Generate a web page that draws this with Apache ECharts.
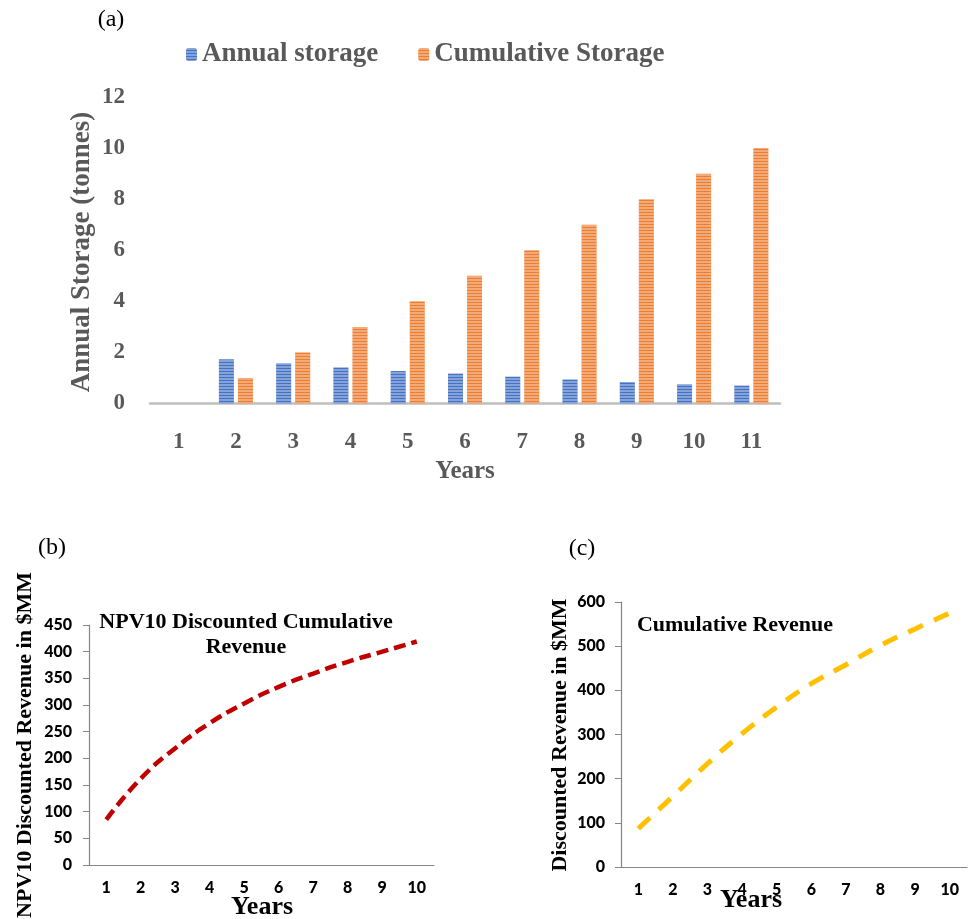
<!DOCTYPE html>
<html>
<head>
<meta charset="utf-8">
<script src="https://cdn.jsdelivr.net/npm/echarts@6/dist/echarts.min.js"></script>
<style>
  html, body { margin: 0; padding: 0; background: #fff; }
  #chart { width: 969px; height: 919px; }
</style>
</head>
<body>
<div id="chart"></div>
<script>
// (a) storage per year
const years = ['1', '2', '3', '4', '5', '6', '7', '8', '9', '10', '11'];
const annualStorage = [null, 1.73, 1.57, 1.41, 1.27, 1.17, 1.05, 0.94, 0.84, 0.75, 0.70];
const cumulativeStorage = [null, 1, 2, 3, 4, 5, 6, 7, 8, 9, 10];

// (b) and (c) revenue curves
const revYears = ['1', '2', '3', '4', '5', '6', '7', '8', '9', '10'];
const npvRevenue = [85, 162, 219, 266, 303, 334, 359, 381, 400, 419];
const cumRevenue = [87, 160, 234, 302, 362, 415, 458, 502, 539, 575];

const serif = '"Liberation Serif", "Times New Roman", serif';
const sans = 'Lato, "Open Sans", sans-serif';
const grayText = '#595959';

const stripes = {
  symbol: 'rect',
  symbolSize: 1,
  dashArrayX: [1, 0],
  dashArrayY: [2, 1],
  color: 'rgba(255,255,255,0.35)'
};

const chart = echarts.init(document.getElementById('chart'));

// small helper for free text
const label = (text, x, y, font, color, rot) => ({
  type: 'text',
  x: x, y: y,
  rotation: rot || 0,
  style: { text: text, font: font, fill: color || '#000', textAlign: 'center', textVerticalAlign: 'middle' }
});

const revAxisLabel = { fontFamily: sans, fontWeight: 900, fontSize: 16, color: '#000' };

chart.setOption({
  backgroundColor: '#fff',
  animation: false,
  legend: {
    data: ['Annual storage', 'Cumulative Storage'],
    left: 181,
    top: 36,
    itemWidth: 11,
    itemHeight: 13,
    itemGap: 40,
    textStyle: { fontFamily: serif, fontWeight: 'bold', fontSize: 27, color: grayText }
  },
  grid: [
    { left: 150, right: 189, top: 97, bottom: 515.5 },
    { left: 89, right: 535, top: 625, bottom: 54 },
    { left: 621, right: 2, top: 602, bottom: 52 }
  ],
  xAxis: [
    {
      gridIndex: 0, type: 'category', data: years,
      axisLine: { lineStyle: { color: '#bfbfbf', width: 2.5 } },
      axisTick: { show: false },
      axisLabel: { margin: 27, fontFamily: serif, fontWeight: 'bold', fontSize: 23, color: grayText }
    },
    {
      gridIndex: 1, type: 'category', data: revYears,
      axisLine: { lineStyle: { color: '#868686', width: 1.2 } },
      axisTick: { length: 5, lineStyle: { color: '#868686' } },
      axisLabel: Object.assign({ margin: 15 }, revAxisLabel)
    },
    {
      gridIndex: 2, type: 'category', data: revYears,
      axisLine: { lineStyle: { color: '#868686', width: 1.2 } },
      axisTick: { length: 5, lineStyle: { color: '#868686' } },
      axisLabel: Object.assign({ margin: 15 }, revAxisLabel)
    }
  ],
  yAxis: [
    {
      gridIndex: 0, type: 'value', min: 0, max: 12, interval: 2,
      axisLine: { show: false },
      axisTick: { show: false },
      splitLine: { show: false },
      axisLabel: { margin: 25, fontFamily: serif, fontWeight: 'bold', fontSize: 23, color: grayText }
    },
    {
      gridIndex: 1, type: 'value', min: 0, max: 450, interval: 50,
      axisLine: { show: true, lineStyle: { color: '#868686', width: 1.2 } },
      axisTick: { show: true, length: 6, lineStyle: { color: '#868686' } },
      splitLine: { show: false },
      axisLabel: Object.assign({ margin: 17 }, revAxisLabel)
    },
    {
      gridIndex: 2, type: 'value', min: 0, max: 600, interval: 100,
      axisLine: { show: true, lineStyle: { color: '#868686', width: 1.2 } },
      axisTick: { show: true, length: 6, lineStyle: { color: '#868686' } },
      splitLine: { show: false },
      axisLabel: Object.assign({ margin: 16 }, revAxisLabel)
    }
  ],
  series: [
    {
      name: 'Annual storage', type: 'bar', xAxisIndex: 0, yAxisIndex: 0,
      data: annualStorage, barWidth: 15, barGap: '27%',
      itemStyle: { color: '#4472C4', decal: stripes }
    },
    {
      name: 'Cumulative Storage', type: 'bar', xAxisIndex: 0, yAxisIndex: 0,
      data: cumulativeStorage, barWidth: 15, barGap: '27%',
      itemStyle: { color: '#ED7D31', decal: stripes }
    },
    {
      name: 'NPV10', type: 'line', xAxisIndex: 1, yAxisIndex: 1,
      data: npvRevenue, smooth: true, showSymbol: false,
      lineStyle: { color: '#C00000', width: 4.5, type: [12, 6] }
    },
    {
      name: 'Cumulative', type: 'line', xAxisIndex: 2, yAxisIndex: 2,
      data: cumRevenue, smooth: true, showSymbol: false,
      lineStyle: { color: '#FFC000', width: 5, type: [16, 12] }
    }
  ],
  graphic: [
    label('(a)', 111, 20, '24px ' + serif, '#000'),
    label('(b)', 52, 548, '24px ' + serif, '#000'),
    label('(c)', 582, 549, '24px ' + serif, '#000'),
    label('Annual Storage (tonnes)', 82, 252, 'bold 27px ' + serif, grayText, Math.PI / 2),
    label('Years', 465, 472, 'bold 25px ' + serif, grayText),
    label('NPV10 Discounted Revenue in $MM', 25, 745, 'bold 22px ' + serif, '#000', Math.PI / 2),
    label('NPV10 Discounted Cumulative', 246, 622, 'bold 22px ' + serif, '#000'),
    label('Revenue', 246, 647, 'bold 22px ' + serif, '#000'),
    label('Years', 262, 907, 'bold 26px ' + serif, '#000'),
    label('Discounted Revenue in $MM', 560, 735, 'bold 22px ' + serif, '#000', Math.PI / 2),
    label('Cumulative Revenue', 735, 625, 'bold 22px ' + serif, '#000'),
    label('Years', 751, 900, 'bold 26px ' + serif, '#000')
  ]
});
</script>
</body>
</html>
